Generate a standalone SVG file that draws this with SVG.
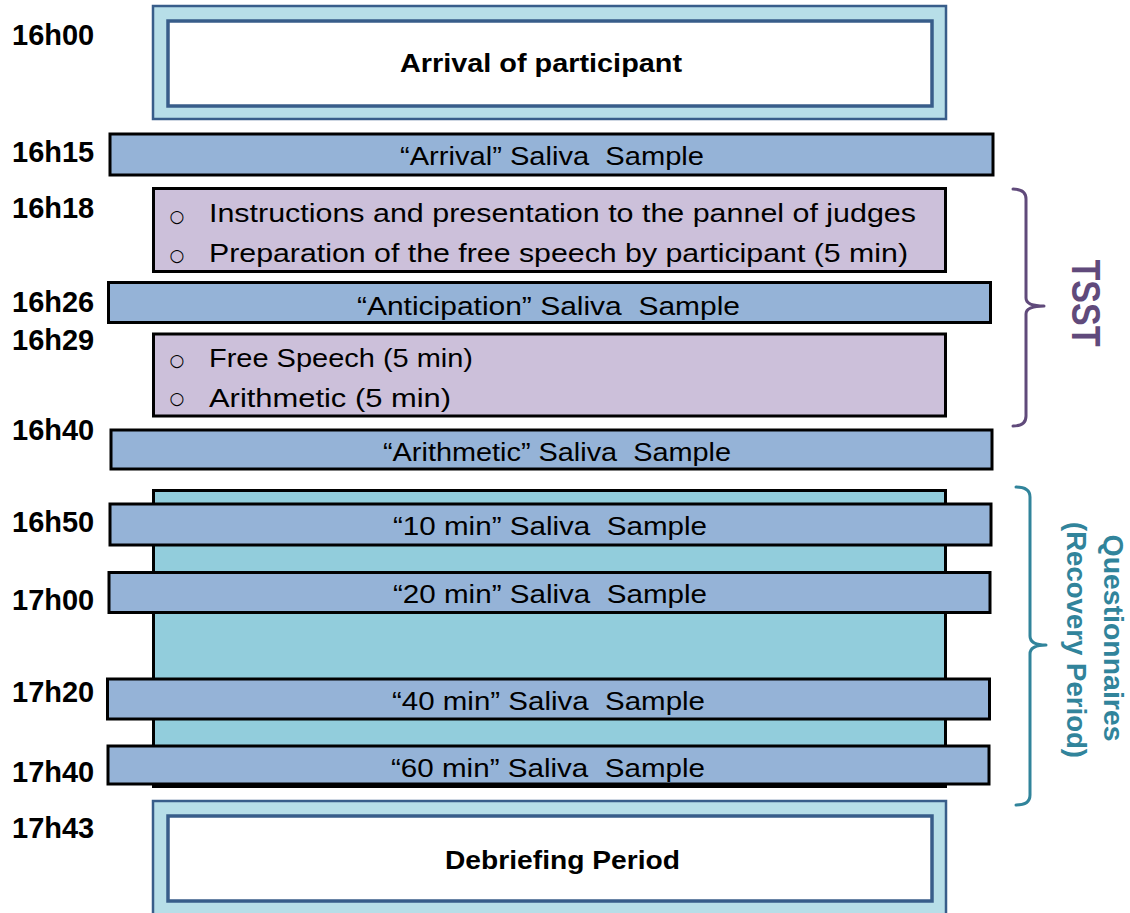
<svg xmlns="http://www.w3.org/2000/svg" width="1130" height="913" viewBox="0 0 1130 913">
<defs>
<style>
.time{font-family:"Liberation Sans",Arial,sans-serif;font-weight:bold;font-size:29px;fill:#000}
.bar{fill:#95b3d7;stroke:#000;stroke-width:3}
.task{fill:#ccc0da;stroke:#000;stroke-width:3}
.outer{fill:#b7dee8;stroke:#385d8a;stroke-width:2.5}
.inner{fill:#fff;stroke:#385d8a;stroke-width:3.5}
.txt{font-family:"Liberation Sans",Arial,sans-serif;font-size:26px;fill:#000;white-space:pre}
.bold{font-family:"Liberation Sans",Arial,sans-serif;font-weight:bold;font-size:26px;fill:#000}
.bul{font-family:"DejaVu Sans",sans-serif;font-size:17px;fill:#000;text-anchor:middle}
.mid{text-anchor:middle}
</style>
</defs>
<rect width="1130" height="913" fill="#fff"/>

<g id="times">
<text class="time" x="12" y="45">16h00</text>
<text class="time" x="12" y="162">16h15</text>
<text class="time" x="12" y="218">16h18</text>
<text class="time" x="12" y="312">16h26</text>
<text class="time" x="12" y="350">16h29</text>
<text class="time" x="12" y="440">16h40</text>
<text class="time" x="12" y="532">16h50</text>
<text class="time" x="12" y="610">17h00</text>
<text class="time" x="12" y="702">17h20</text>
<text class="time" x="12" y="782">17h40</text>
<text class="time" x="12" y="838">17h43</text>
</g>

<g id="arrival">
<rect class="outer" x="153" y="6" width="793" height="113"/>
<rect class="inner" x="168" y="21" width="764" height="85"/>
<text class="bold mid" x="541" y="72" textLength="282" lengthAdjust="spacingAndGlyphs">Arrival of participant</text>
</g>

<g id="sample-arrival">
<rect class="bar" x="110" y="134" width="883" height="41"/>
<text class="txt mid" xml:space="preserve" x="552" y="165" textLength="304" lengthAdjust="spacingAndGlyphs">“Arrival” Saliva  Sample</text>
</g>

<g id="task1">
<rect class="task" x="153.5" y="188.5" width="792" height="83"/>
<text class="bul" x="177" y="222">○</text>
<text class="txt" x="209" y="222" textLength="707" lengthAdjust="spacingAndGlyphs">Instructions and presentation to the pannel of judges</text>
<text class="bul" x="177" y="261">○</text>
<text class="txt" x="209" y="262" textLength="699" lengthAdjust="spacingAndGlyphs">Preparation of the free speech by participant (5 min)</text>
</g>

<g id="sample-anticipation">
<rect class="bar" x="108.5" y="282.5" width="882" height="40"/>
<text class="txt mid" xml:space="preserve" x="548.5" y="315" textLength="383" lengthAdjust="spacingAndGlyphs">“Anticipation” Saliva  Sample</text>
</g>

<g id="task2">
<rect class="task" x="153.5" y="334" width="792" height="82"/>
<text class="bul" x="177" y="366">○</text>
<text class="txt" x="209" y="367" textLength="264" lengthAdjust="spacingAndGlyphs">Free Speech (5 min)</text>
<text class="bul" x="177" y="404">○</text>
<text class="txt" x="209" y="407" textLength="242" lengthAdjust="spacingAndGlyphs">Arithmetic (5 min)</text>
</g>

<g id="sample-arithmetic">
<rect class="bar" x="111" y="430" width="881" height="39"/>
<text class="txt mid" xml:space="preserve" x="557" y="461" textLength="348" lengthAdjust="spacingAndGlyphs">“Arithmetic” Saliva  Sample</text>
</g>

<g id="questionnaires-block">
<rect x="153.5" y="490.5" width="792" height="296" fill="#92cddc" stroke="#000" stroke-width="3"/>
</g>

<g id="sample-10">
<rect class="bar" x="110" y="504" width="881" height="41"/>
<text class="txt mid" xml:space="preserve" x="550" y="535" textLength="314" lengthAdjust="spacingAndGlyphs">“10 min” Saliva  Sample</text>
</g>
<g id="sample-20">
<rect class="bar" x="109" y="572.5" width="881" height="40"/>
<text class="txt mid" xml:space="preserve" x="550" y="603" textLength="314" lengthAdjust="spacingAndGlyphs">“20 min” Saliva  Sample</text>
</g>
<g id="sample-40">
<rect class="bar" x="107.5" y="679" width="882" height="40"/>
<text class="txt mid" xml:space="preserve" x="548.5" y="710" textLength="313" lengthAdjust="spacingAndGlyphs">“40 min” Saliva  Sample</text>
</g>
<g id="sample-60">
<rect class="bar" x="108" y="746" width="881" height="38"/>
<text class="txt mid" xml:space="preserve" x="548" y="777" textLength="314" lengthAdjust="spacingAndGlyphs">“60 min” Saliva  Sample</text>
</g>

<g id="debriefing">
<rect class="outer" x="153" y="801" width="793" height="130"/>
<rect class="inner" x="168" y="816" width="764" height="85"/>
<text class="bold mid" x="562.5" y="869" textLength="235" lengthAdjust="spacingAndGlyphs">Debriefing Period</text>
</g>

<g id="connectors" fill="none" stroke-width="3" stroke-linecap="round" stroke-linejoin="round">
<path d="M1013,189 Q1026,189 1026,199 L1026,298 Q1026,306 1044,306 Q1026,306 1026,314 L1026,416 Q1026,426 1013,426" stroke="#604a7b"/>
<path d="M1016,487 Q1030,487 1030,497 L1030,636 Q1030,645 1046,645 Q1030,645 1030,654 L1030,795 Q1030,805 1016,805" stroke="#31849b"/>
</g>

<g id="label-tsst">
<text transform="translate(1072,303) rotate(90)" text-anchor="middle" font-family="Liberation Sans, Arial, sans-serif" font-weight="bold" font-size="40" fill="#604a7b" textLength="87" lengthAdjust="spacingAndGlyphs">TSST</text>
</g>
<g id="label-recovery" fill="#31849b" font-family="Liberation Sans, Arial, sans-serif" font-size="28" font-weight="bold">
<text transform="translate(1104,638) rotate(90)" text-anchor="middle" textLength="207" lengthAdjust="spacingAndGlyphs">Questionnaires</text>
<text transform="translate(1067,640) rotate(90)" text-anchor="middle" textLength="236" lengthAdjust="spacingAndGlyphs">(Recovery Period)</text>
</g>
</svg>
